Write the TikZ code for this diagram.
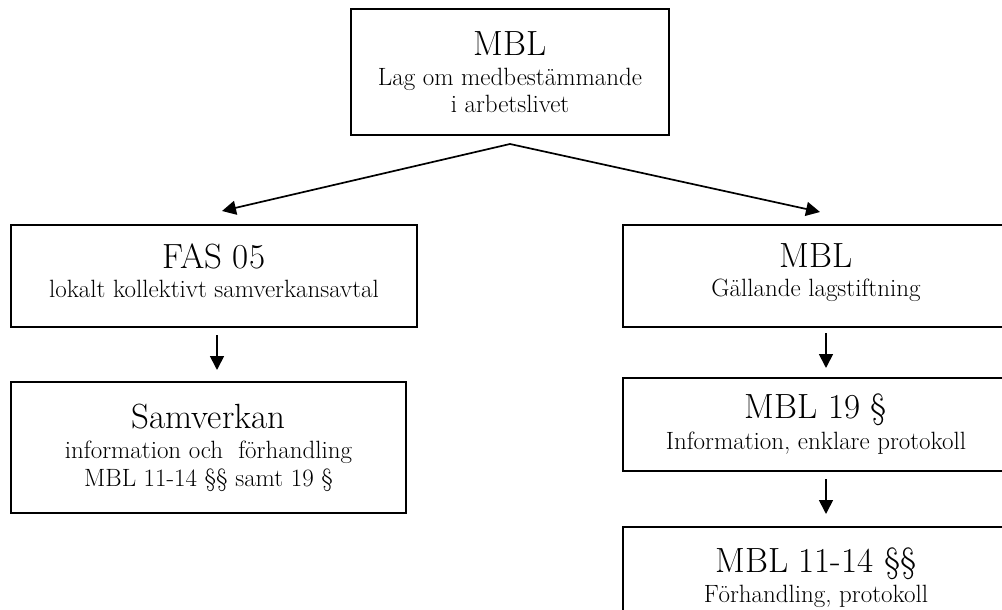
\documentclass[tikz,border=0pt]{standalone}
\usetikzlibrary{arrows.meta}
\begin{document}
\begin{tikzpicture}[x=1pt,y=-1pt,
  box/.style={draw,line width=2pt,rectangle,align=center,inner sep=0pt,
    font=\fontsize{25}{29}\selectfont},
  arr/.style={line width=1.7pt,-{Triangle[length=14pt,width=14pt]}}]
\newcommand\ttlfont{\fontsize{35}{36}\selectfont}
\clip (0,0) rectangle (1002,610);
\useasboundingbox (0,0) rectangle (1002,610);
% boxes
\node[box,minimum width=318pt,minimum height=126pt] (top) at (510,72)
  {{\ttlfont MBL}\\[1pt] Lag om medbestämmande\\[-2pt] i arbetslivet};
\node[box,minimum width=406pt,minimum height=102pt] (fas) at (214,276)
  {{\ttlfont FAS 05}\\[0pt] lokalt kollektivt samverkansavtal\\[-26pt]\strut};
\node[box,minimum width=395pt,minimum height=131pt] (sam) at (208.5,447.5)
  {{\ttlfont Samverkan}\\[1pt] information och\ \ förhandling\\[-1pt] MBL 11-14 §§ samt 19 §};
\node[box,minimum width=386pt,minimum height=102pt] (mblr) at (816,276)
  {{\ttlfont MBL}\\[0pt] Gällande lagstiftning\\[-26pt]\strut};
\node[box,minimum width=386pt,minimum height=93pt] (m19) at (816,424.5)
  {{\ttlfont MBL 19 §}\\[2pt] Information, enklare protokoll};
\node[box,minimum width=386pt,minimum height=102pt] (m11) at (816,578)
  {{\ttlfont MBL 11-14 §§}\\[1pt] Förhandling, protokoll};
% connector points
\coordinate (apex) at ([yshift=-8pt]top.south);
\coordinate (lt) at ([xshift=8pt,yshift=13pt]fas.north);
\coordinate (rt) at ([xshift=4pt,yshift=12pt]mblr.north);
\coordinate (f1) at (217,335);
\coordinate (f2) at (217,370);
\coordinate (r1) at (826,333);
\coordinate (r2) at (826,368);
\coordinate (r3) at (826,479);
\coordinate (r4) at (826,514);
% connectors
\draw[arr] (apex) -- (lt);
\draw[arr] (apex) -- (rt);
\draw[arr] (f1) -- (f2);
\draw[arr] (r1) -- (r2);
\draw[arr] (r3) -- (r4);
\end{tikzpicture}
\end{document}
